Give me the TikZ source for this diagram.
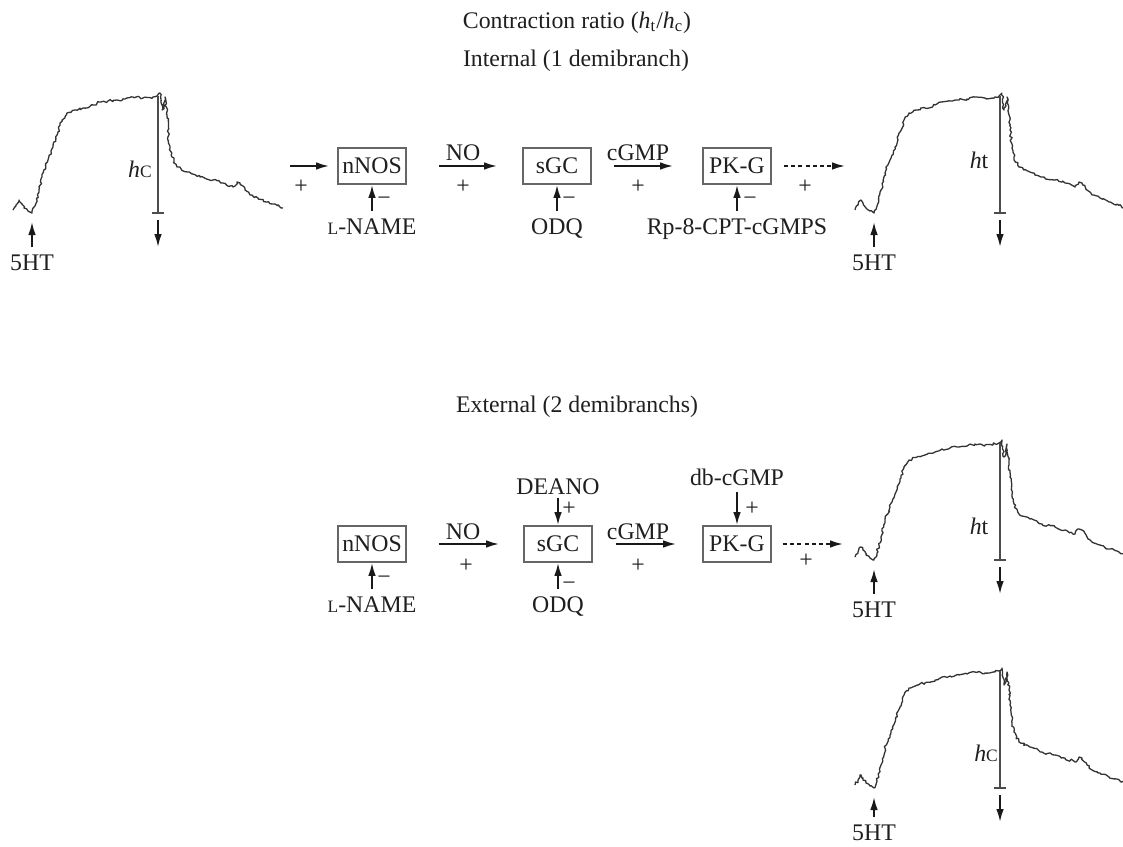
\documentclass[tikz,border=0pt]{standalone}
\usepackage{fontspec}
\setmainfont{Liberation Serif}
\usetikzlibrary{arrows.meta,decorations.pathmorphing}
\tikzset{
 lbl/.style={font=\fontsize{11.9}{13}\selectfont, text=black!88},
 box/.style={draw=black!60, line width=0.9pt, minimum width=34pt, minimum height=18pt, inner sep=0pt, lbl},
 arr/.style={line width=0.9pt, black!90, -{Latex[length=6.5pt,width=3.8pt]}},
 dotarr/.style={arr, dash pattern=on 2pt off 1.6pt},
 trace/.style={line width=0.65pt, black!80, line join=round, decorate, decoration={random steps, segment length=1.1pt, amplitude=0.65pt}},
 hline/.style={line width=0.7pt, black!70},
 sgn/.style={lbl, inner sep=0pt},
}
\newcommand\hsmall[1]{{\fontsize{8.7}{9}\selectfont #1}}
% #1 prefix, #2 x0, #3 y0, #4 label, #5 label x, #6 label baseline y, #7 5HT baseline y
\newcommand\drawtrace[7]{%
 \begin{scope}[shift={(#2,#3)}]
  \coordinate (#1start) at (0,0);
  \draw[trace] plot coordinates {(0,0) (3,-5) (6,-10) (8,-7) (11,-2) (15,1) (19,3) (22,-4) (26,-20) (30,-37) (35,-50) (40,-63) (45,-78) (49,-90) (54,-97) (62,-100) (70,-102) (80,-105) (87,-108) (95,-109) (104,-110) (112,-111) (120,-113) (130,-112) (140,-113) (144,-114) (147,-117) (149,-100) (151,-104) (152,-113) (154,-95) (155,-80) (157,-62) (159,-53) (164,-43) (175,-38) (187,-33) (200,-30) (210,-27) (220,-23) (224,-28) (227,-27) (232,-20) (237,-15) (245,-12) (254,-8) (262,-6) (270,-2)};
  \coordinate (#1top) at (145,-114);
  \coordinate (#1bot) at (145,3);
  \draw[hline] (#1top) -- (#1bot);
  \draw[hline] ([xshift=-3pt]#1bot) -- ([xshift=3pt]#1bot);
  \coordinate (#1d0) at (145,10);
  \coordinate (#1d1) at (145,37);
  \draw[arr] (#1d0) -- (#1d1);
  \coordinate (#1s) at (19,12);
  \node[lbl, anchor=base] (#1ser) at (19,#7) {5HT};
  \draw[arr] (#1ser) -- (#1s);
  \node[lbl, anchor=base] (#1h) at (#5,#6) {#4};
 \end{scope}}
\begin{document}
\begin{tikzpicture}[x=0.5pt,y=-0.5pt]
\pgfmathsetseed{11}
\useasboundingbox (0,0) rectangle (1123,846);
% titles
\node[lbl, anchor=base] (title) at (577,28) {Contraction ratio (\textit{h}\textsubscript{t}/\textit{h}\textsubscript{c})};
\node[lbl, anchor=base] (intl) at (576,66) {Internal (1 demibranch)};
\node[lbl, anchor=base] (extl) at (577,412) {External (2 demibranchs)};
% traces
\drawtrace{tA}{13}{210}{\textit{h}\hsmall{C}}{127}{-33}{60}
\drawtrace{tB}{855}{210}{\textit{h}t}{124}{-42}{60}
\drawtrace{tC}{855}{557}{\textit{h}t}{124}{-23}{60}
\drawtrace{tD}{855}{785}{\textit{h}\hsmall{C}}{131}{-24}{55}
% top row
\node[box] (nnosA) at (372,166) {nNOS};
\node[box] (sgcA) at (557,166) {sGC};
\node[box] (pkgA) at (737,166) {PK-G};
\coordinate (inA) at (290,166);
\coordinate (outA) at (845,166);
\draw[arr, shorten >=4pt] (inA) -- (nnosA);
\draw[arr, shorten <=16pt, shorten >=12.5pt] (nnosA) -- (sgcA);
\draw[arr, shorten <=11pt, shorten >=14.5pt] (sgcA) -- (pkgA);
\draw[dotarr, shorten <=6pt] (pkgA) -- (outA);
\node[lbl, anchor=base] (noA) at (463,160) {NO};
\node[lbl, anchor=base] (cgA) at (638,160) {cGMP};
\node[sgn] (p1A) at (301,187) {+};
\node[sgn] (p2A) at (463,187) {+};
\node[sgn] (p3A) at (638,187) {+};
\node[sgn] (p4A) at (805,187) {+};
\node[lbl, anchor=base] (lnA) at (372,234) {\hsmall{L}-NAME};
\node[lbl, anchor=base] (odqA) at (557,234) {ODQ};
\node[lbl, anchor=base] (rpA) at (737,234) {Rp-8-CPT-cGMPS};
\draw[arr] (lnA) -- (nnosA);
\draw[arr] (odqA) -- (sgcA);
\draw[arr] (rpA) -- (pkgA);
\node[sgn] (m1A) at (384,201) {−};
\node[sgn] (m2A) at (569,201) {−};
\node[sgn] (m3A) at (750,201) {−};
% bottom row
\node[box] (nnosB) at (372,544) {nNOS};
\node[box] (sgcB) at (558,544) {sGC};
\node[box] (pkgB) at (737,544) {PK-G};
\coordinate (outB) at (843,544);
\draw[arr, shorten <=16pt, shorten >=12pt] (nnosB) -- (sgcB);
\draw[arr, shorten <=11.5pt, shorten >=13pt] (sgcB) -- (pkgB);
\draw[dotarr, shorten <=5.5pt] (pkgB) -- (outB);
\node[lbl, anchor=base] (noB) at (463,539) {NO};
\node[lbl, anchor=base] (cgB) at (638,539) {cGMP};
\node[sgn] (p2B) at (466,566) {+};
\node[sgn] (p3B) at (638,566) {+};
\node[sgn] (p4B) at (806,561) {+};
\node[lbl, anchor=base] (lnB) at (372,612) {\hsmall{L}-NAME};
\node[lbl, anchor=base] (odqB) at (558,612) {ODQ};
\node[lbl, anchor=base, inner sep=1.5pt] (deB) at (558,494) {DEANO};
\node[lbl, anchor=base] (dbB) at (737,485) {db-cGMP};
\draw[arr] (lnB) -- (nnosB);
\draw[arr] (odqB) -- (sgcB);
\draw[arr] (deB) -- (sgcB);
\draw[arr] (dbB) -- (pkgB);
\node[sgn] (m1B) at (384,580) {−};
\node[sgn] (m2B) at (569,586) {−};
\node[sgn] (p5B) at (569,509) {+};
\node[sgn] (p6B) at (752,509) {+};
\end{tikzpicture}
\end{document}
